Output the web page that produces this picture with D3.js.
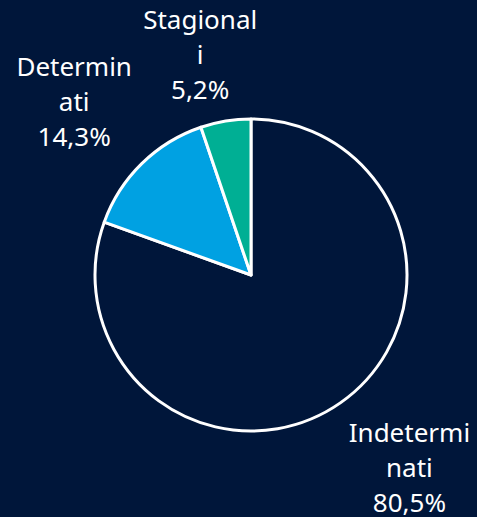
<!DOCTYPE html>
<html>
<head>
<meta charset="utf-8">
<script src="https://cdn.jsdelivr.net/npm/d3@7"></script>
<style>
  html, body { margin: 0; padding: 0; background: #00163a; }
  svg { display: block; }
</style>
</head>
<body>
<div id="chart"></div>
<script>
var width = 477;
var height = 517;

// data
var categories = ["Indeterminati", "Determinati", "Stagionali"];
var values = [80.5, 14.3, 5.2];
var labelLines = [["Indetermi", "nati"], ["Determin", "ati"], ["Stagional", "i"]];
var colors = ["#00163a", "#00a1e2", "#00af94"];

var cx = 251, cy = 275, radius = 156;

var svg = d3.select("#chart")
  .append("svg")
    .attr("width", width)
    .attr("height", height);

svg.append("rect")
  .attr("width", width)
  .attr("height", height)
  .attr("fill", "#00163a");

var data = categories.map(function(c, i){
  return {name: c, value: values[i], lines: labelLines[i], color: colors[i]};
});

var pie = d3.pie()
  .sort(null)
  .value(d => d.value);

var arc = d3.arc()
  .innerRadius(0)
  .outerRadius(radius);

var g = svg.append("g")
  .attr("transform", "translate(" + cx + "," + cy + ")");

var arcs = pie(data);

g.selectAll("path")
  .data(arcs)
  .enter()
  .append("path")
    .attr("d", arc)
    .attr("fill", d => d.data.color)
    .attr("stroke", "white")
    .attr("stroke-width", 3)
    .attr("stroke-linejoin", "round");

var fmt = function(v){ return d3.format(".1f")(v).replace(".", ",") + "%"; };
var lineH = 35;
var gap = 14;

var labels = g.selectAll(".label")
  .data(arcs)
  .enter()
  .append("text")
    .attr("class", "label")
    .attr("fill", "white")
    .attr("font-family", "'Noto Sans', sans-serif")
    .attr("font-size", 26)
    .attr("text-anchor", "middle");

labels.each(function(d){
  var t = d3.select(this);
  var lines = d.data.lines.concat([fmt(d.data.value)]);
  lines.forEach(function(l, i){
    t.append("tspan")
      .attr("x", 0)
      .attr("dy", i === 0 ? 0 : lineH)
      .text(l);
  });
  var bb = this.getBBox();
  var a = (d.startAngle + d.endAngle) / 2;
  var s = Math.sin(a), c = Math.cos(a);
  var r = radius + gap;
  var kx = Math.max(-1, Math.min(1, s * 2.5));
  var ky = Math.max(-1, Math.min(1, c * 2.5));
  var px = s * r + kx * bb.width / 2;
  var py = -c * r - ky * bb.height / 2;
  // shift so the box centre sits at (px, py)
  var ox = px - (bb.x + bb.width / 2);
  var oy = py - (bb.y + bb.height / 2);
  t.attr("transform", "translate(" + ox + "," + oy + ")");
});
</script>
</body>
</html>
